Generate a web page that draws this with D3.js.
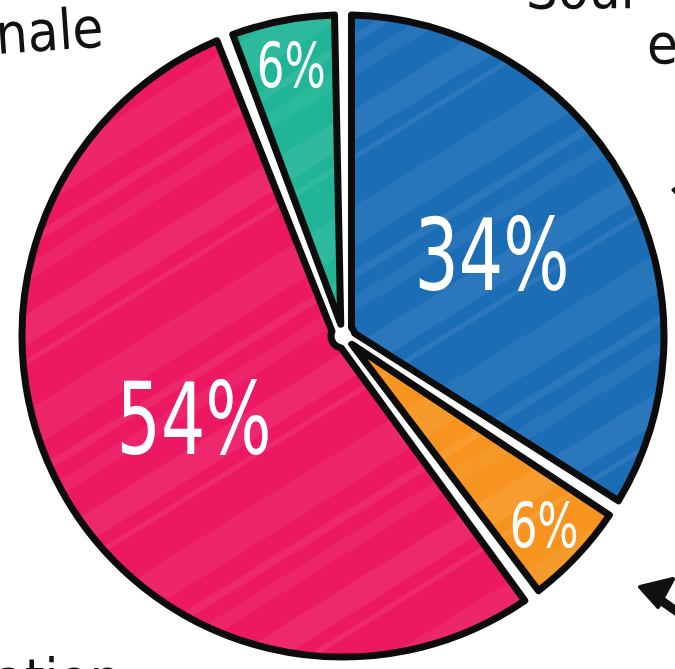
<!DOCTYPE html>
<html>
<head>
<meta charset="utf-8">
<script src="https://cdn.jsdelivr.net/npm/d3@7"></script>
<style>
  html, body { margin: 0; padding: 0; background: #fff; overflow: hidden; }
  svg { display: block; }
</style>
</head>
<body>
<div id="chart"></div>
<script>
// --- data (clockwise from 12 o'clock) ---
const sliceKeys = ["blue", "orange", "pink", "teal"];
const sliceValues = [34, 6, 54, 6];
const sliceLabels = ["34%", "6%", "54%", "6%"];
const sliceColors = ["#1b6db6", "#f7941f", "#ec1862", "#1fb596"];

// partial annotation words cut off by the frame
const noteTexts = ["nale", "Sour", "e", "ation"];

const width = 675, height = 669;
const cx = 343, cy = 336;
const radius = 321;

const svg = d3.select("#chart").append("svg")
  .attr("width", width)
  .attr("height", height);

// --- soft streaky texture for each colour ---
const defs = svg.append("defs");
sliceKeys.forEach((k, i) => {
  const pat = defs.append("pattern")
    .attr("id", "tex-" + k)
    .attr("patternUnits", "userSpaceOnUse")
    .attr("width", 260)
    .attr("height", 200)
    .attr("patternTransform", "rotate(-32)");
  pat.append("rect").attr("width", 260).attr("height", 200).attr("fill", sliceColors[i]);
  // [y, height, opacity]
  [[14, 26, 0.07], [52, 5, 0.08], [96, 34, 0.06], [150, 8, 0.07], [172, 14, 0.05]].forEach(s => {
    pat.append("rect")
      .attr("x", 0).attr("y", s[0])
      .attr("width", 260).attr("height", s[1])
      .attr("fill", "#fff").attr("opacity", s[2]);
  });
});

const g = svg.append("g").attr("transform", `translate(${cx},${cy})`);

const pie = d3.pie().sort(null).value(d => d)(sliceValues);

// a tiny inner radius keeps the white gaps open right into the middle
const arc = d3.arc()
  .innerRadius(12)
  .outerRadius(radius)
  .padRadius(radius)
  .padAngle(17 / radius);

g.selectAll("path.slice")
  .data(pie)
  .join("path")
  .attr("class", "slice")
  .attr("d", arc)
  .attr("fill", (d, i) => `url(#tex-${sliceKeys[i]})`)
  .attr("stroke", "#0c0c0c")
  .attr("stroke-width", 7)
  .attr("stroke-linejoin", "round");

// labels: big slices closer to the centre, small ones near the rim
const labelR = d => d.value >= 20 ? 170 : 276;
const labelArc = d => d3.arc().innerRadius(labelR(d)).outerRadius(labelR(d)).centroid(d);

g.selectAll("text.pct")
  .data(pie)
  .join("text")
  .attr("class", "pct")
  .attr("x", d => labelArc(d)[0])
  .attr("y", d => labelArc(d)[1])
  .attr("dy", "0.36em")
  .attr("text-anchor", "middle")
  .attr("fill", "#fff")
  .attr("font-family", "'DejaVu Sans Condensed', 'DejaVu Sans', sans-serif")
  .attr("font-size", d => d.value >= 20 ? 100 : 62)
  .attr("textLength", d => d.value >= 20 ? 155 : 69)
  .attr("lengthAdjust", "spacingAndGlyphs")
  .text((d, i) => sliceLabels[i]);

// --- annotations (cut off at the frame edges, as in the source) ---
const noteFont = "'DejaVu Sans Condensed', 'DejaVu Sans', sans-serif";
const notes = svg.append("g")
  .attr("fill", "#111")
  .attr("font-family", noteFont)
  .attr("font-size", 56);

notes.append("text")
  .attr("transform", "translate(-3,54) rotate(-4)")
  .text(noteTexts[0]);
notes.append("text")
  .attr("x", 526).attr("y", 8)
  .text(noteTexts[1]);
notes.append("text")
  .attr("x", 647).attr("y", 63)
  .text(noteTexts[2]);
notes.append("text")
  .attr("x", -6).attr("y", 698)
  .text(noteTexts[3]);

// arrows
const arrows = svg.append("g").attr("fill", "#111").attr("stroke", "#111");
arrows.append("path")
  .attr("d", "M700,628 L652,594")
  .attr("stroke-width", 9)
  .attr("stroke-linecap", "round")
  .attr("fill", "none");
arrows.append("path")
  .attr("d", "M640,587 L673,579 L658,607 Z")
  .attr("stroke-width", 4)
  .attr("stroke-linejoin", "round");
arrows.append("path")
  .attr("d", "M673,190 L688,178 L686,204 Z")
  .attr("stroke-width", 3)
  .attr("stroke-linejoin", "round");
</script>
</body>
</html>
